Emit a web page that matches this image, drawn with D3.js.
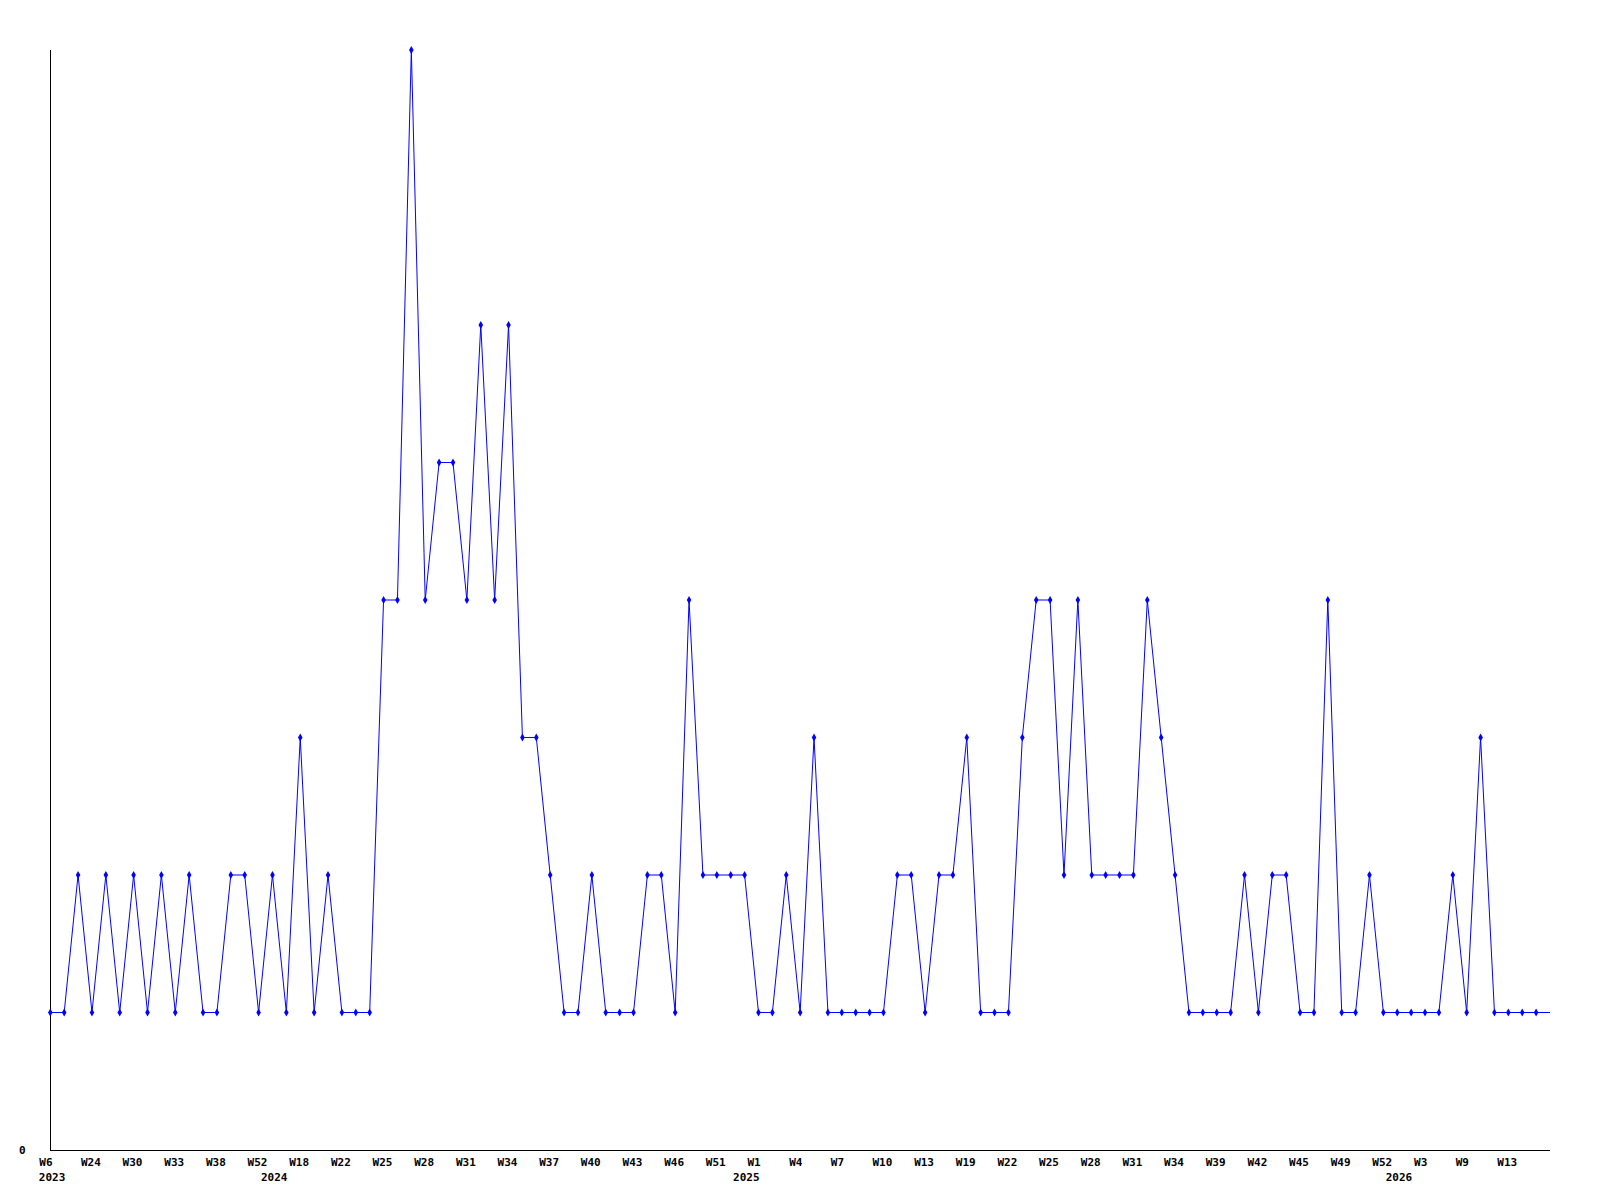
<!DOCTYPE html>
<html>
<head>
<meta charset="utf-8">
<script src="https://cdn.jsdelivr.net/npm/d3@7"></script>
<style>
  html, body { margin: 0; padding: 0; background: #fff; }
  svg text { font-family: "DejaVu Sans Mono", "Liberation Mono", monospace; font-size: 11px; font-weight: bold; fill: #000; }
  .line { fill: none; stroke: #0000ff; stroke-width: 1px; }
  .marker { fill: #0000ff; }
  .axis path, .axis line { stroke: #000; }
</style>
</head>
<body>
<svg id="chart" width="1600" height="1200"></svg>
<script>
// weekly counts, one per point
const values = [
    1, 1, 2, 1, 2, 1, 2, 1, 2, 1,
    2, 1, 1, 2, 2, 1, 2, 1, 3, 1,
    2, 1, 1, 1, 4, 4, 8, 4, 5, 5,
    4, 6, 4, 6, 3, 3, 2, 1, 1, 2,
    1, 1, 1, 2, 2, 1, 4, 2, 2, 2,
    2, 1, 1, 2, 1, 3, 1, 1, 1, 1,
    1, 2, 2, 1, 2, 2, 3, 1, 1, 1,
    3, 4, 4, 2, 4, 2, 2, 2, 2, 4,
    3, 2, 1, 1, 1, 1, 2, 1, 2, 2,
    1, 1, 4, 1, 1, 2, 1, 1, 1, 1,
    1, 2, 1, 3, 1, 1, 1, 1, 1
];

// a label on every third point
const weekLabels = [
    "W6", "W24", "W30", "W33", "W38", "W52", "W18", "W22", "W25", "W28",
    "W31", "W34", "W37", "W40", "W43", "W46", "W51", "W1", "W4", "W7",
    "W10", "W13", "W19", "W22", "W25", "W28", "W31", "W34", "W39", "W42",
    "W45", "W49", "W52", "W3", "W9", "W13"
];

const yearIndex = [0, 16, 50, 97];
const yearLabels = ["2023", "2024", "2025", "2026"];

const yMax = 8;

const svg = d3.select("#chart");

const x = d3.scaleLinear()
    .domain([0, values.length - 1])
    .range([50.3, 1550]);

const y = d3.scaleLinear()
    .domain([0, yMax])
    .range([1150, 50]);

// axes
svg.append("line")
    .attr("x1", 50.5).attr("x2", 50.5)
    .attr("y1", 50).attr("y2", 1150.5)
    .attr("stroke", "#000");

svg.append("line")
    .attr("x1", 50).attr("x2", 1550)
    .attr("y1", 1150.5).attr("y2", 1150.5)
    .attr("stroke", "#000");

const xAxis = d3.axisBottom(x)
    .tickValues(weekLabels.map((_, i) => i * 3))
    .tickFormat((d, i) => weekLabels[i])
    .tickSize(0);

const gx = svg.append("g")
    .attr("class", "axis")
    .attr("transform", "translate(0,1150)")
    .call(xAxis);
gx.select(".domain").remove();
gx.selectAll("text")
    .attr("text-anchor", "start")
    .attr("font-family", null)
    .attr("font-size", null)
    .attr("dx", -11.5)
    .attr("y", 0)
    .attr("dy", 16);

svg.append("g")
    .selectAll("text")
    .data(yearIndex)
    .join("text")
    .attr("x", d => x(d) - 11.5)
    .attr("y", 1181)
    .text((d, i) => yearLabels[i]);

const gy = svg.append("g")
    .attr("class", "axis")
    .attr("transform", "translate(50,0)")
    .call(d3.axisLeft(y).tickValues([0]).tickFormat(d3.format("d")).tickSize(0));
gy.select(".domain").remove();
gy.selectAll("text")
    .attr("font-family", null)
    .attr("font-size", null)
    .attr("text-anchor", "start")
    .attr("x", -31)
    .attr("dy", "0.32em")
    .attr("y", 0);

// series
const line = d3.line()
    .x((d, i) => x(i))
    .y(d => y(d));

svg.append("path")
    .datum(values)
    .attr("class", "line")
    .attr("d", line);

const marker = d3.symbol().type(d3.symbolDiamond).size(18);

svg.append("g")
    .selectAll("path")
    .data(values.slice(0, values.length - 1))
    .join("path")
    .attr("class", "marker")
    .attr("transform", (d, i) => `translate(${x(i)},${y(d)})`)
    .attr("d", marker);
</script>
</body>
</html>
